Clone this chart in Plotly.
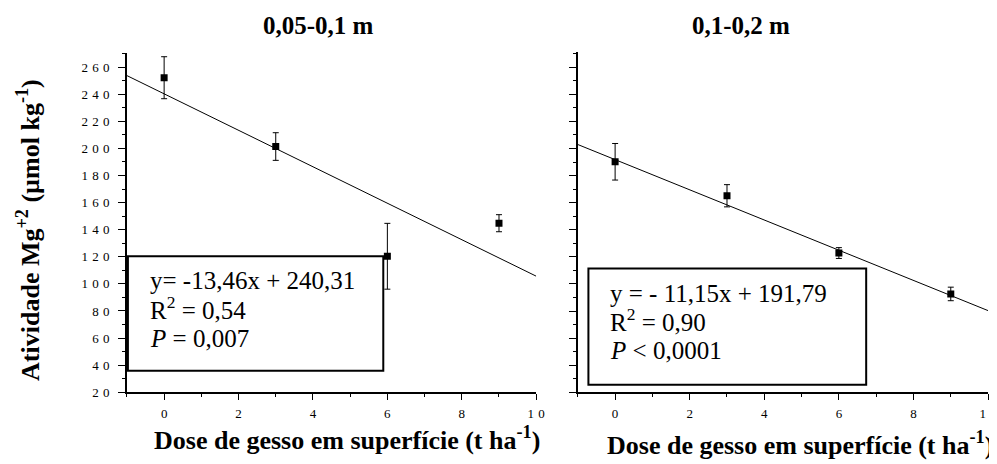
import plotly.graph_objects as go

# ---------------- data ----------------
dose = [0, 3, 6, 9]
mg_L = [252.2, 201.4, 120.4, 144.8]
err_L = [15.5, 10.2, 24.3, 6.3]
mg_R = [190.2, 165.1, 122.8, 92.6]
err_R = [13.5, 8.2, 4.0, 5.0]
fit_L = (-13.46, 240.31)
fit_R = (-11.15, 191.79)
fit_x = [-1, 10]
titles = ["0,05-0,1 m", "0,1-0,2 m"]
eq_L = ["y= -13,46x + 240,31", "R<sup>2</sup> = 0,54", "<i>P</i> = 0,007"]
eq_R = ["y = - 11,15x + 191,79", "R<sup>2</sup> = 0,90", "<i>P</i> < 0,0001"]
S = "\u2004"
ytick_vals = [20, 40, 60, 80, 100, 120, 140, 160, 180, 200, 220, 240, 260]
ytick_text = [S.join(str(v)) for v in ytick_vals]
xtick_vals = [0, 2, 4, 6, 8, 10]
xtick_text = [S.join(str(v)) for v in xtick_vals]
ylabel = "Atividade Mg<sup>+2</sup> (µmol kg<sup>-1</sup>)"
xlabel = "Dose de gesso em superfície (t ha<sup>-1</sup>)"

W, H = 997, 464
FONT = "Liberation Serif"


def px(x):
    return x / W


def py(y):
    return 1 - y / H


fig = go.Figure()

for xa, ya, vals, errs, fit in [("x", "y", mg_L, err_L, fit_L),
                                ("x2", "y2", mg_R, err_R, fit_R)]:
    fig.add_trace(go.Scatter(
        x=fit_x, y=[fit[0] * v + fit[1] for v in fit_x], mode="lines",
        line=dict(color="black", width=1), xaxis=xa, yaxis=ya, showlegend=False))
    fig.add_trace(go.Scatter(
        x=dose, y=vals, mode="markers",
        marker=dict(symbol="square", size=7, color="black"),
        error_y=dict(type="data", array=errs, color="black", thickness=1, width=3),
        xaxis=xa, yaxis=ya, showlegend=False))

axis_common = dict(showgrid=False, zeroline=False, showline=True, linecolor="black",
                   linewidth=1.5, ticks="outside", tickcolor="black",
                   tickfont=dict(family=FONT, size=13, color="black"))

fig.update_layout(
    width=W, height=H,
    margin=dict(l=0, r=0, t=0, b=0),
    paper_bgcolor="white", plot_bgcolor="white",
    font=dict(family=FONT, color="black"),
    xaxis=dict(domain=[px(120), px(533)], range=[-1, 10], tickvals=xtick_vals,
               ticktext=xtick_text, ticklen=6, tickwidth=1.2, ticklabelstandoff=2,
               minor=dict(dtick=1, tick0=-1, ticklen=3, ticks="outside", tickcolor="black"),
               anchor="y", **axis_common),
    yaxis=dict(domain=[py(391), py(46)], range=[20, 270.3], tickvals=ytick_vals,
               ticktext=ytick_text, ticklen=7, tickwidth=1.2, ticklabelstandoff=6,
               minor=dict(dtick=10, tick0=20, ticklen=3, ticks="outside", tickcolor="black"),
               anchor="x", **axis_common),
    xaxis2=dict(domain=[px(575), px(989)], range=[-1, 10], tickvals=xtick_vals,
                ticktext=xtick_text, ticklen=6, tickwidth=1.2, ticklabelstandoff=2,
                minor=dict(dtick=1, tick0=-1, ticklen=3, ticks="outside", tickcolor="black"),
                anchor="y2", **axis_common),
    yaxis2=dict(domain=[py(391), py(44.3)], range=[20, 271.6], tickvals=ytick_vals,
                showticklabels=False, ticklen=7, tickwidth=1.2,
                minor=dict(dtick=10, tick0=20, ticklen=3, ticks="outside", tickcolor="black"),
                anchor="x2", **axis_common),
)

# equation boxes
fig.add_shape(type="rect", xref="paper", yref="paper",
              x0=px(121), x1=px(378.7), y0=py(369), y1=py(252.7),
              line=dict(color="black", width=2), fillcolor="white", layer="above")
fig.add_shape(type="rect", xref="paper", yref="paper",
              x0=px(585.7), x1=px(866), y0=py(383.3), y1=py(265),
              line=dict(color="black", width=2), fillcolor="white", layer="above")

ann = []
for lines, x0, ys in [(eq_L, 141, [277.5, 305.0, 336.5]),
                      (eq_R, 605, [290.3, 317.2, 349.0])]:
    for t, yy in zip(lines, ys):
        ann.append(dict(text=t, x=px(x0), y=py(yy), xref="paper", yref="paper",
                        xanchor="left", yanchor="middle", showarrow=False,
                        font=dict(family=FONT, size=25, color="black")))

bold = dict(family=FONT, size=25, color="black")
ann.append(dict(text="<b>%s</b>" % titles[0], x=px(313.3), y=py(18), xref="paper",
                yref="paper", xanchor="center", yanchor="middle", showarrow=False, font=bold))
ann.append(dict(text="<b>%s</b>" % titles[1], x=px(740), y=py(18), xref="paper",
                yref="paper", xanchor="center", yanchor="middle", showarrow=False, font=bold))
ann.append(dict(text="<b>%s</b>" % ylabel, x=px(20), y=py(226), xref="paper",
                yref="paper", xanchor="center", yanchor="middle", showarrow=False,
                textangle=-90, font=dict(family=FONT, size=26, color="black")))
ann.append(dict(text="<b>%s</b>" % xlabel, x=px(342), y=py(438), xref="paper",
                yref="paper", xanchor="center", yanchor="middle", showarrow=False,
                font=dict(family=FONT, size=26, color="black")))
ann.append(dict(text="<b>%s</b>" % xlabel, x=px(799), y=py(443), xref="paper",
                yref="paper", xanchor="center", yanchor="middle", showarrow=False,
                font=dict(family=FONT, size=26, color="black")))
fig.update_layout(annotations=ann)

fig.write_html("out.html")
